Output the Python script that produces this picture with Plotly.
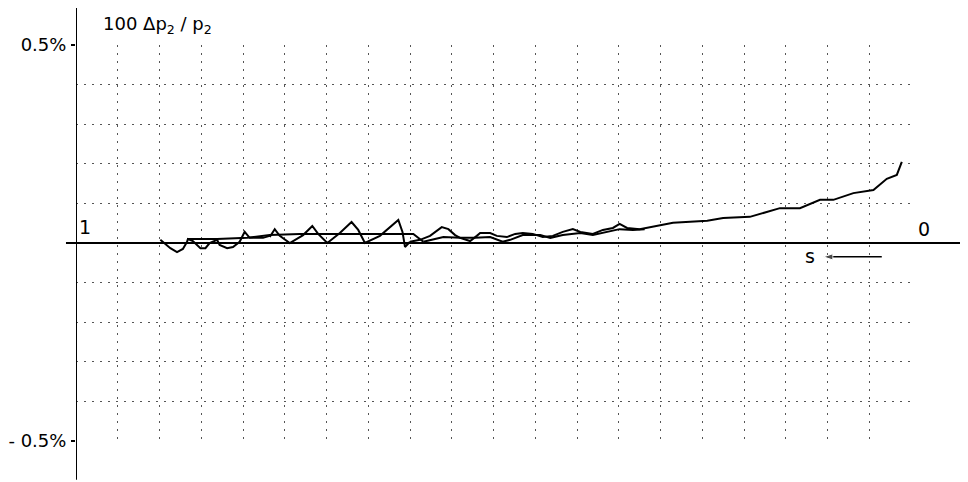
import plotly.graph_objects as go

# ---- data (s: 1 -> 0, value in percent) ----
main_s = [0.899, 0.893, 0.887, 0.879, 0.872, 0.867, 0.866, 0.860, 0.851, 0.845, 0.840, 0.831,
          0.828, 0.819, 0.812, 0.804, 0.798, 0.792, 0.776, 0.768]
main_v = [0.008, -0.003, -0.013, -0.023, -0.015, 0.003, 0.010, 0.005, -0.013, -0.013, 0.000, 0.008,
          -0.005, -0.013, -0.010, 0.003, 0.028, 0.013, 0.013, 0.018]

zig_s = [0.768, 0.762, 0.756, 0.744, 0.728, 0.717, 0.710, 0.699, 0.684, 0.670, 0.662, 0.654,
         0.636, 0.628, 0.614, 0.609, 0.606, 0.600]
zig_v = [0.015, 0.035, 0.018, 0.000, 0.020, 0.043, 0.023, 0.000, 0.025, 0.053, 0.033, 0.000,
         0.018, 0.033, 0.058, 0.028, -0.010, 0.003]

flat_s = [0.867, 0.831, 0.795, 0.768, 0.732, 0.672, 0.624, 0.596, 0.584]
flat_v = [0.010, 0.010, 0.013, 0.020, 0.023, 0.023, 0.023, 0.023, 0.003]

upper_s = [0.600, 0.588, 0.576, 0.567, 0.562, 0.554, 0.546, 0.540, 0.528, 0.520, 0.516, 0.504,
           0.496, 0.484, 0.474, 0.465, 0.453, 0.441, 0.429, 0.417, 0.405, 0.396, 0.381, 0.369,
           0.357, 0.349, 0.340, 0.325, 0.285, 0.244, 0.225, 0.193, 0.172, 0.157, 0.133, 0.109,
           0.093, 0.069, 0.045, 0.029, 0.017, 0.011]
upper_v = [0.003, 0.008, 0.018, 0.033, 0.040, 0.035, 0.020, 0.013, 0.005, 0.018, 0.025, 0.025,
           0.018, 0.015, 0.023, 0.025, 0.023, 0.015, 0.018, 0.028, 0.035, 0.028, 0.023, 0.033,
           0.038, 0.048, 0.038, 0.035, 0.051, 0.056, 0.063, 0.066, 0.078, 0.088, 0.088, 0.109,
           0.109, 0.126, 0.134, 0.162, 0.172, 0.205]

lower_s = [0.584, 0.560, 0.540, 0.522, 0.504, 0.489, 0.480, 0.465, 0.444, 0.432, 0.417, 0.396,
           0.381, 0.364, 0.349, 0.333, 0.319]
lower_v = [0.003, 0.015, 0.013, 0.013, 0.015, 0.003, 0.008, 0.020, 0.020, 0.013, 0.020, 0.025,
           0.020, 0.028, 0.035, 0.033, 0.035]

# direction arrow for s (tail first, head last)
arrow_s = [0.035, 0.105]
arrow_v = [-0.035, -0.035]

y_labels = [-0.5, 0.5]
y_text = ["- 0.5%", "0.5%"]

FONT = "DejaVu Sans, sans-serif"
GRID = dict(showgrid=True, gridcolor="#555", gridwidth=1, griddash="2px,6px")

fig = go.Figure()
for xs, ys in [(main_s, main_v), (zig_s, zig_v), (flat_s, flat_v),
               (upper_s, upper_v), (lower_s, lower_v)]:
    fig.add_trace(go.Scatter(x=xs, y=ys, mode="lines",
                             line=dict(color="black", width=2),
                             showlegend=False, hoverinfo="skip"))

fig.add_trace(go.Scatter(x=arrow_s, y=arrow_v, mode="lines+markers",
                         line=dict(color="black", width=1.5),
                         marker=dict(symbol="arrow", size=[0, 10], angleref="previous",
                                     color="black"),
                         showlegend=False, hoverinfo="skip"))

# page body has an 8px margin, so the figure is offset by 8px
fig.update_layout(
    width=960, height=474,
    margin=dict(l=68, r=57, t=37, b=41),
    paper_bgcolor="white", plot_bgcolor="white",
    font=dict(family=FONT, color="black", size=19),
    xaxis=dict(range=[1, 0], dtick=0.05, tick0=0, showticklabels=False, automargin=False,
               zeroline=False, showline=False, ticks="", **GRID),
    yaxis=dict(range=[-0.5, 0.5], tickvals=y_labels, ticktext=y_text, automargin=False,
               zeroline=False, showline=False, ticks="outside", ticklen=4,
               tickcolor="black", tickwidth=1.5, ticklabelstandoff=1,
               tickfont=dict(size=18, family=FONT),
               minor=dict(dtick=0.1, tick0=0, ticks="", **GRID),
               **GRID),
)

# y axis line (extends beyond the grid)
fig.add_shape(type="line", xref="x", yref="paper", x0=1, x1=1, y0=-0.098, y1=1.10,
              line=dict(color="black", width=2))
# zero line (extends to the right edge)
fig.add_shape(type="line", xref="paper", yref="y", x0=-0.012, x1=1.07, y0=0, y1=0,
              line=dict(color="black", width=2))

fig.add_annotation(x=0.03, y=1.05, xref="paper", yref="paper", xanchor="left", yanchor="middle",
                   text="100 Δp<sub>2</sub> / p<sub>2</sub>", showarrow=False,
                   font=dict(size=18, family=FONT))
fig.add_annotation(x=1, y=0, xref="x", yref="y", xanchor="left", yanchor="bottom",
                   xshift=1, yshift=3, text="1", showarrow=False, font=dict(size=19, family=FONT))
fig.add_annotation(x=0, y=0, xref="x", yref="y", xanchor="left", yanchor="bottom",
                   xshift=5, yshift=1, text="0", showarrow=False, font=dict(size=19, family=FONT))
fig.add_annotation(x=0.105, y=-0.035, xref="x", yref="y", xanchor="right", yanchor="middle",
                   xshift=-6, yshift=1, text="s", showarrow=False, font=dict(size=19, family=FONT))

fig.write_html("out.html")
